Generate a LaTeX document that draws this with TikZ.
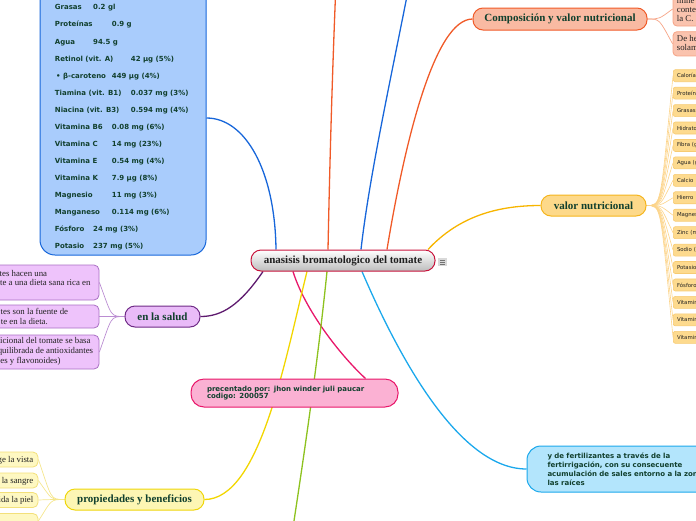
\documentclass[tikz,border=0pt]{standalone}
\usepackage{fontspec}
\setmainfont{Liberation Serif}
\newfontfamily\dvs{DejaVu Sans}
\definecolor{txtgreen}{HTML}{11402E}
\definecolor{darktext}{HTML}{222222}
\definecolor{cenborder}{HTML}{C8143C}
\definecolor{cengray}{HTML}{BDBDBD}
\definecolor{bluel}{HTML}{1766DA}
\definecolor{bluefill}{HTML}{A9CCFC}
\definecolor{orangel}{HTML}{F05A28}
\definecolor{compfill}{HTML}{F9BAA2}
\definecolor{cchfill}{HTML}{FAC3AE}
\definecolor{cchline}{HTML}{F6A385}
\definecolor{vnline}{HTML}{F7B500}
\definecolor{vnfill}{HTML}{FDD98A}
\definecolor{vnborder}{HTML}{F5B51E}
\definecolor{vchfill}{HTML}{FDDA8E}
\definecolor{vchborder}{HTML}{F7CB72}
\definecolor{vchline}{HTML}{FCD48A}
\definecolor{skyl}{HTML}{1BA8EC}
\definecolor{fertfill}{HTML}{B3E5FC}
\definecolor{pinkl}{HTML}{E8176A}
\definecolor{pinkfill}{HTML}{FBB1D3}
\definecolor{yel}{HTML}{F2D600}
\definecolor{propfill}{HTML}{FDF6B4}
\definecolor{propborder}{HTML}{EFD60A}
\definecolor{pchfill}{HTML}{FEF8C2}
\definecolor{pchborder}{HTML}{F3E07A}
\definecolor{pchline}{HTML}{F5E68E}
\definecolor{greenl}{HTML}{8DC21F}
\definecolor{purl}{HTML}{5E1A6E}
\definecolor{saludfill}{HTML}{E9BBF8}
\definecolor{saludborder}{HTML}{6F2B86}
\definecolor{schfill}{HTML}{EEC3FB}
\definecolor{schborder}{HTML}{A96FC4}
\definecolor{schline}{HTML}{BB8DD2}
\definecolor{icongray}{HTML}{D9D9D9}
\pgfdeclarelayer{bg}
\pgfsetlayers{bg,main}
\tikzset{
  title/.style={rounded corners=10pt, line width=1pt, font=\bfseries\fontsize{11}{13}\selectfont, text=txtgreen, inner sep=0pt},
  branch/.style={line width=1.3pt},
  twig/.style={line width=0.7pt},
  bt/.style={font=\dvs\bfseries\fontsize{7}{8}\selectfont, text=txtgreen, inner sep=0pt, anchor=base west},
  sertext/.style={font=\fontsize{8.8}{10}\selectfont, text=darktext, inner sep=0pt},
  sbox/.style={draw=schborder, fill=schfill, rounded corners=5pt, line width=0.8pt, inner sep=0pt},
  pbox/.style={draw=pchborder, fill=pchfill, rounded corners=5pt, line width=0.8pt, inner sep=0pt},
  cbox/.style={draw=cchline, fill=cchfill, rounded corners=4pt, line width=0.8pt, inner sep=0pt},
  vbox/.style={draw=vchborder, fill=vchfill, rounded corners=2pt, line width=0.6pt, minimum height=12pt, inner xsep=3.7pt, inner ysep=0pt, text width=40pt, align=left, font=\dvs\fontsize{5.4}{6}\selectfont, text=darktext, anchor=west},
}
\begin{document}
\begin{tikzpicture}[x=1pt,y=-1pt]
\useasboundingbox (0,0) rectangle (696,520);
\clip (0,0) rectangle (696,520);

% central node
\node[title, draw=cenborder, top color=white, bottom color=cengray, text=black!88, minimum width=184pt, minimum height=21pt] (c) at (343,260.5) {anasisis bromatologico del tomate};
\node[fill=icongray, inner sep=0pt, minimum width=8.5pt, minimum height=8pt] (icon) at (442.5,262) {};
\foreach \dy in {-2.2,0,2.2} {
  \draw[black!55, line width=0.6pt] ([xshift=-2.5pt,yshift=\dy pt]icon.center) -- ([xshift=2.5pt,yshift=\dy pt]icon.center);
}

% blue box
\node[draw=bluel, fill=bluefill, line width=1pt, rounded corners=15pt, minimum width=166pt, minimum height=285pt, inner sep=0pt] (bb) at (123,112.5) {};
\foreach \lx/\lab/\vx/\val [count=\i from 0] in {
  54.7/Grasas/93/0.2 gl,
  54.7/Proteínas/111.7/0.9 g,
  54.7/Agua/93/94.5 g,
  54.7/Retinol (vit. A)/130.7/42 µg (5\%),
  56/• β-caroteno/111.7/449 µg (4\%),
  54.7/Tiamina (vit. B1)/130.7/0.037 mg (3\%),
  54.7/Niacina (vit. B3)/130.7/0.594 mg (4\%),
  54.7/Vitamina B6/111.7/0.08 mg (6\%),
  54.7/Vitamina C/111.7/14 mg (23\%),
  54.7/Vitamina E/111.7/0.54 mg (4\%),
  54.7/Vitamina K/111.7/7.9 µg (8\%),
  54.7/Magnesio/111.7/11 mg (3\%),
  54.7/Manganeso/111.7/0.114 mg (6\%),
  54.7/Fósforo/93/24 mg (3\%),
  54.7/Potasio/93/237 mg (5\%)} {
  \node[bt] (bl\i) at (\lx, 9.9+17.05*\i) {\lab};
  \node[bt] (bv\i) at (\vx, 9.9+17.05*\i) {\val};
}

% en la salud
\node[title, draw=saludborder, fill=saludfill, minimum width=75pt, minimum height=21pt] (salud) at (162.5,316.5) {en la salud};
\node[sbox, minimum width=150pt, minimum height=35pt] (s1) at (24,282.5) {};
\node[sbox, minimum width=150pt, minimum height=23pt] (s2) at (24,316.5) {};
\node[sbox, minimum width=150pt, minimum height=34pt] (s3) at (24,352) {};
\node[sertext, anchor=base east] (s1a) at (47.3,276.3) {tes hacen una};
\node[sertext, anchor=base east] (s1b) at (90.7,285.5) {te a una dieta sana rica en};
\node[sertext, anchor=base east] (s2a) at (68.3,314.3) {tes son la fuente de};
\node[sertext, anchor=base east] (s2b) at (48,324) {te en la dieta.};
\node[sertext, anchor=base east] (s3a) at (90.7,343) {icional del tomate se basa};
\node[sertext, anchor=base east] (s3b) at (93.3,353) {quilibrada de antioxidantes};
\node[sertext, anchor=base east] (s3c) at (60.7,363) {des y flavonoides)};

% propiedades
\node[title, draw=propborder, fill=propfill, minimum width=139pt, minimum height=21pt] (prop) at (134.5,499.5) {propiedades y beneficios};
\node[pbox, minimum width=98pt, minimum height=15pt] (p1) at (-11,459.5) {};
\node[pbox, minimum width=98pt, minimum height=15pt] (p2) at (-11,480.5) {};
\node[pbox, minimum width=98pt, minimum height=15pt] (p3) at (-11,500) {};
\node[pbox, minimum width=98pt, minimum height=15pt] (p4) at (-11,521) {};
\node[sertext, anchor=base east] (p1t) at (33.5,462) {ge la vista};
\node[sertext, anchor=base east] (p2t) at (33.5,483) {la sangre};
\node[sertext, anchor=base east] (p3t) at (33.5,502.5) {ida la piel};

% presented by
\node[draw=pinkl, fill=pinkfill, line width=1pt, rounded corners=13pt, minimum height=28pt, text width=175pt, align=left, inner xsep=16pt, inner ysep=0pt, font=\dvs\bfseries\fontsize{7}{7.6}\selectfont, text=txtgreen] (pk) at (294.5,393) {precentado por: jhon winder juli paucar\\codigo: 200057};

% fertilizantes
\node[draw=skyl, fill=fertfill, line width=1pt, rounded corners=14pt, minimum height=46pt, text width=200pt, align=left, inner xsep=20.5pt, inner ysep=0pt, font=\dvs\bfseries\fontsize{7}{8.9}\selectfont, text=txtgreen] (fert) at (647.5,469) {y de fertilizantes a través de la\\fertirrigación, con su consecuente\\acumulación de sales entorno a la zona de\\las raíces};

% composicion
\node[title, draw=orangel, fill=compfill, minimum width=174pt, minimum height=22pt] (comp) at (560,19) {Composición y valor nutricional};
\node[cbox, minimum width=80pt, minimum height=34pt] (cA) at (713,9) {};
\node[cbox, minimum width=80pt, minimum height=24.3pt] (cB) at (713,43.8) {};
\node[sertext, anchor=base west] (cA1) at (676.7,3.2) {mine};
\node[sertext, anchor=base west] (cA2) at (676.7,12.4) {conte};
\node[sertext, anchor=base west] (cA3) at (676.7,21.3) {la C.};
\node[sertext, anchor=base west] (cB1) at (676.7,41.6) {De he};
\node[sertext, anchor=base west] (cB2) at (676.7,50.6) {solam};

% valor nutricional
\node[title, draw=vnborder, fill=vnfill, minimum width=105pt, minimum height=21pt] (vn) at (593.5,205.5) {valor nutricional};
\foreach \t [count=\k from 0] in {Calorías, Proteínas, Grasas, Hidratos, Fibra (g), Agua (g), Calcio, Hierro, Magnesio, Zinc (mg), Sodio (mg), Potasio, Fósforo, Vitamina, Vitamina, Vitamina} {
  \node[vbox] (v\k) at (673, 75.7+17.44*\k) {\t};
}

% free ends
\coordinate (o2end) at (337,-40);
\coordinate (b2end) at (414,-40);
\coordinate (gend) at (288,560);

\begin{pgfonlayer}{bg}
  \draw[branch, bluel] ([xshift=-67pt]c.north) .. controls (275,170) and (245,118) .. ([yshift=-5.5pt]bb.east);
  \draw[branch, orangel] ([xshift=-15pt]c.north) .. controls (330,150) and (333,50) .. (o2end);
  \draw[branch, bluel] ([xshift=18pt]c.north) .. controls (370,170) and (395,60) .. (b2end);
  \draw[branch, orangel] ([xshift=44pt]c.north) .. controls (405,140) and (435,19) .. (comp.west);
  \draw[branch, vnline] ([xshift=85pt]c.north) .. controls (460,215) and (500,205.5) .. (vn.west);
  \draw[branch, skyl] ([xshift=19pt]c.south) .. controls (400,360) and (460,469) .. (fert.west);
  \draw[branch, pinkl] ([xshift=-50pt]c.south) .. controls (305,310) and (340,355) .. ([xshift=71pt]pk.north);
  \draw[branch, yel] ([xshift=-36pt]c.south) .. controls (285,360) and (260,499.5) .. (prop.east);
  \draw[branch, greenl] ([xshift=-16pt]c.south) .. controls (318,360) and (305,450) .. (gend);
  \draw[branch, purl] ([xshift=-80pt]c.south) .. controls (240,305) and (222,316.5) .. (salud.east);
  \foreach \n in {s1,s2,s3} {
    \draw[twig, schline] (salud.west) .. controls (110,316.5) and (112,316.5) .. (\n.east);
  }
  \foreach \n in {p1,p2,p3,p4} {
    \draw[twig, pchline] (prop.west) .. controls (50,499.5) and (52,499.5) .. (\n.east);
  }
  \foreach \n in {cA,cB} {
    \draw[twig, cchline] (comp.east) .. controls (660,19) and (659,19) .. (\n.west);
  }
  \foreach \k in {0,...,15} {
    \draw[line width=0.6pt, vchline] (vn.east) .. controls (662,205.5) and (660,205.5) .. (v\k.west);
  }
\end{pgfonlayer}
\end{tikzpicture}
\end{document}
